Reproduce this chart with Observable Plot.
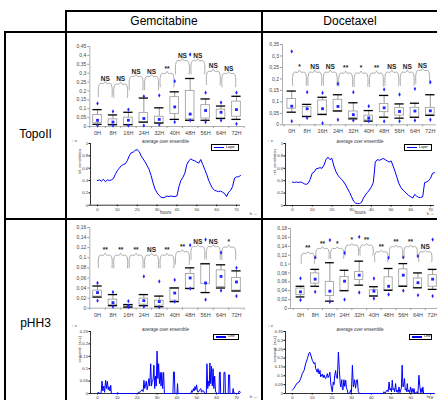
<!DOCTYPE html>
<html><head><meta charset="utf-8">
<script src="https://cdn.jsdelivr.net/npm/d3@7"></script>
<script src="https://cdn.jsdelivr.net/npm/@observablehq/plot@0.6"></script>
<style>
body{margin:0;background:#fff;}
#root{position:relative;width:437px;height:400px;overflow:hidden;background:#fff;font-family:"Liberation Sans",Arial,sans-serif;}
.bar{position:absolute;background:#000;}
.hdr{position:absolute;font-size:12px;text-align:center;color:#000;line-height:12px;}
.panel{position:absolute;}
.panel svg{overflow:visible;}
.legend{position:absolute;border:0.8px solid #000;background:#fff;box-sizing:border-box;display:flex;align-items:center;}
.legend .ln{display:inline-block;width:10px;height:1.2px;background:#0000ff;margin-left:2px;margin-right:2px;}
.legend .tx{font-size:3.5px;color:#000;line-height:3.5px;}
</style></head>
<body><div id="root"></div>
<script>
// ---------- table text ----------
const colHeaders = ["Gemcitabine", "Docetaxel"];
const rowHeaders = ["TopoII", "pHH3"];
const timeCats = ["0H","8H","16H","24H","32H","40H","48H","56H","64H","72H"];

// ---------- Gemcitabine / TopoII box chart ----------
const gemTopoQ1   = [0.02,0.01,0.01,0.02,0.015,0.07,0.04,0.045,0.045,0.055];
const gemTopoQ3   = [0.065,0.04,0.05,0.075,0.055,0.165,0.2,0.12,0.095,0.14];
const gemTopoMean = [0.035,0.025,0.035,0.045,0.04,0.11,0.07,0.09,0.08,0.095];
const gemTopoLo   = [0.012,0.01,0.01,0.025,0.02,0.04,0.035,0.035,0.045,0.04];
const gemTopoHi   = [0.095,0.065,0.08,0.16,0.105,0.195,0.27,0.155,0.115,0.17];
const gemTopoMin  = [0.005,0.005,0.005,0.005,0.01,0.025,0.035,0.025,0.035,0.015];
const gemTopoMax  = [0.13,0.085,0.095,0.17,0.175,0.255,0.405,0.19,0.135,0.19];
const gemTopoSig  = ["NS","NS","NS","NS","**","NS","NS","NS","NS"];
const gemTopoSigY = [0.242,0.238,0.281,0.281,0.298,0.37,0.37,0.31,0.298];
const gemTopoTicks = [0,0.05,0.1,0.15,0.2,0.25,0.3,0.35,0.4,0.45];

// ---------- Docetaxel / TopoII box chart ----------
const docTopoQ1   = [0.07,0.036,0.045,0.06,0.03,0.019,0.055,0.04,0.03,0.044];
const docTopoQ3   = [0.113,0.077,0.106,0.109,0.058,0.04,0.091,0.073,0.074,0.074];
const docTopoMean = [0.081,0.07,0.07,0.08,0.044,0.03,0.074,0.058,0.06,0.061];
const docTopoLo   = [0.055,0.036,0.045,0.06,0.026,0.016,0.033,0.029,0.033,0.041];
const docTopoHi   = [0.147,0.089,0.12,0.131,0.096,0.062,0.128,0.091,0.094,0.131];
const docTopoMin  = [0.016,0.03,0.007,0.022,0.019,0.016,0.015,0.016,0.019,0.022];
const docTopoMax  = [0.32,0.142,0.139,0.179,0.142,0.081,0.154,0.132,0.157,0.186];
const docTopoSig  = ["*","NS","NS","**","*","**","NS","NS","NS"];
const docTopoSigY = [0.229,0.229,0.229,0.225,0.225,0.225,0.229,0.229,0.237];
const docTopoTicks = [0,0.05,0.1,0.15,0.2,0.25,0.3,0.35];

// ---------- Gemcitabine / pHH3 box chart ----------
const gemPhhQ1   = [0.023,0.006,0.002,0.007,0.005,0.015,0.039,0.048,0.042,0.035];
const gemPhhQ3   = [0.035,0.017,0.007,0.019,0.015,0.04,0.068,0.088,0.075,0.06];
const gemPhhMean = [0.031,0.011,0.005,0.015,0.013,0.03,0.06,0.05,0.063,0.052];
const gemPhhLo   = [0.022,0.005,0.002,0.005,0.003,0.013,0.039,0.031,0.04,0.034];
const gemPhhHi   = [0.044,0.027,0.007,0.027,0.024,0.04,0.08,0.088,0.086,0.074];
const gemPhhMin  = [0.015,0.003,0.002,0.003,0.002,0.013,0.039,0.017,0.035,0.024];
const gemPhhMax  = [0.05,0.032,0.014,0.063,0.053,0.056,0.125,0.136,0.11,0.08];
const gemPhhSig  = ["**","**","**","NS","**","**","NS","NS","*"];
const gemPhhSigY = [0.105,0.105,0.105,0.105,0.105,0.112,0.122,0.122,0.121];
const gemPhhTicks = [0,0.02,0.04,0.06,0.08,0.1,0.12,0.14,0.16];

// ---------- Docetaxel / pHH3 box chart ----------
const docPhhQ1   = [0.03,0.056,0.028,0.04,0.064,0.028,0.041,0.05,0.0465,0.049];
const docPhhQ3   = [0.045,0.079,0.06,0.071,0.0825,0.041,0.07,0.088,0.0675,0.075];
const docPhhMean = [0.0375,0.066,0.039,0.0615,0.075,0.039,0.05,0.075,0.058,0.066];
const docPhhLo   = [0.026,0.05,0.0165,0.04,0.0525,0.028,0.041,0.05,0.0465,0.043];
const docPhhHi   = [0.05,0.088,0.103,0.086,0.1065,0.049,0.09,0.101,0.08,0.088];
const docPhhMin  = [0.019,0.0375,0.015,0.02,0.036,0.0225,0.0315,0.04,0.03,0.028];
const docPhhMax  = [0.068,0.115,0.154,0.125,0.161,0.0675,0.114,0.115,0.118,0.155];
const docPhhSig  = ["**","**","*","*","**","**","**","**","NS"];
const docPhhSigY = [0.124,0.135,0.135,0.1425,0.1425,0.1275,0.139,0.139,0.1275];
const docPhhTicks = [0,0.02,0.04,0.06,0.08,0.1,0.12,0.14,0.16,0.18];

// ---------- line charts ----------
const hourTicks = [0,10,20,30,40,50,60,70];
const corrTicks = [0,0.2,0.4,0.6,0.8,1];
const gemPhhLineTicks = [0,0.05,0.1,0.15,0.2,0.25];
const docPhhLineTicks = [0,0.05,0.1,0.15,0.2,0.25,0.3,0.35];

const topoHours = [0,1,2,3,4,5,6,7,8,9,10,11,12,13,14,15,16,17,18,19,20,21,22,23,24,25,26,27,28,29,30,31,32,33,34,35,36,37,38,39,40,41,42,43,44,45,46,47,48,49,50,51,52,53,54,55,56,57,58,59,60,61,62,63,64,65,66,67,68,69,70,71,72];
const gemTopoLine = [0.40,0.41,0.39,0.42,0.38,0.41,0.40,0.41,0.43,0.50,0.56,0.60,0.64,0.66,0.67,0.72,0.80,0.85,0.86,0.89,0.90,0.87,0.80,0.75,0.70,0.64,0.58,0.48,0.36,0.26,0.20,0.16,0.13,0.12,0.13,0.15,0.14,0.15,0.14,0.14,0.15,0.30,0.40,0.45,0.52,0.66,0.72,0.75,0.73,0.72,0.70,0.68,0.74,0.66,0.58,0.50,0.40,0.33,0.27,0.24,0.23,0.22,0.23,0.21,0.19,0.14,0.21,0.24,0.30,0.44,0.46,0.46,0.48];
const docTopoLine = [0.38,0.37,0.38,0.37,0.38,0.37,0.35,0.34,0.36,0.42,0.52,0.54,0.59,0.60,0.61,0.60,0.65,0.74,0.78,0.74,0.76,0.64,0.55,0.49,0.45,0.42,0.38,0.33,0.27,0.21,0.14,0.07,0.04,0.03,0.03,0.05,0.12,0.17,0.21,0.25,0.30,0.37,0.70,0.74,0.73,0.74,0.76,0.74,0.72,0.70,0.72,0.64,0.55,0.45,0.35,0.29,0.25,0.22,0.19,0.16,0.14,0.12,0.18,0.15,0.13,0.13,0.14,0.37,0.38,0.40,0.44,0.52,0.53];

const gemPhhHours = [0,0.5,1,1.8,2.3,2.7,3.2,3.6,4.1,4.5,5,5.4,5.8,6.3,6.7,7,10,10.2,10.5,20,20.5,21.5,22,22.5,23,23.4,23.8,24.2,24.6,25,25.4,25.9,26.3,26.8,27.2,27.6,28,28.4,28.8,29.2,29.6,30,30.4,30.8,31.2,31.6,32,32.4,32.8,33.3,33.7,38,38.3,38.7,39,40,40.3,40.6,47,47.4,47.8,48.3,48.7,49.1,49.5,49.9,50.3,50.7,51.5,52,52.4,52.9,53.5,54,54.8,55.1,55.5,55.9,56.3,56.6,57,57.4,57.8,58.2,58.6,59,59.4,60,61.2,61.4,61.8,62,63.5,63.7,64.2,64.4,65.8,66,66.5,66.7,68,68.3,68.6,69.5,71,71.3,72];
const gemPhhLine  = [0,0.006,0,0,0.05,0.01,0.03,0.005,0.053,0.02,0.05,0.015,0.028,0.01,0.033,0,0,0.004,0,0,0.004,0.006,0.01,0.015,0.008,0.053,0.02,0.035,0.05,0.015,0.03,0.06,0.03,0.12,0.03,0.05,0.055,0.114,0.02,0.07,0.03,0.171,0.06,0.12,0.04,0.085,0.03,0.085,0.02,0.085,0,0,0.087,0.087,0,0,0.04,0,0,0.012,0.005,0.02,0.01,0.028,0.015,0.035,0.01,0.005,0.015,0.02,0.005,0.012,0.01,0,0,0.12,0.02,0.05,0.03,0.123,0.04,0.11,0.03,0.1,0.02,0.07,0.01,0,0,0.086,0.086,0,0,0.085,0.085,0,0,0.075,0.075,0,0,0.02,0.003,0,0,0.01,0.005];

const docPhhHours = [0,0.8,1.7,2.5,3.4,4.2,5,5.9,6.7,7.6,8.4,8.9,9.6,10.1,11,11.4,11.8,12.6,13,13.5,14,14.3,15.2,15.6,16,16.5,16.9,17.3,17.7,18.1,18.5,19,19.4,19.7,20.2,20.7,21.1,21.4,21.9,22.3,22.8,23.3,23.8,24.2,24.5,25,25.3,25.6,26.1,26.5,27,27.4,27.8,28.2,29,29.5,29.9,30.4,30.9,31.5,32,32.5,32.9,33.4,34,46,46.4,47,48,48.5,49,49.4,49.7,50.2,50.6,51,51.4,51.8,52.3,52.7,53.1,53.6,54,54.5,55.2,55.6,56,56.2,56.8,57.2,57.5,57.9,58.2,58.6,59,59.4,59.9,60.3,60.7,61.2,61.6,62,63.2,63.6,64.1,64.6,65,65.3,65.7,66.1,66.5,72];
const docPhhLine  = [0.019,0.03,0.047,0.06,0.065,0.084,0.112,0.13,0.168,0.197,0.228,0.232,0.206,0.187,0.168,0.175,0.14,0.12,0.14,0.11,0.13,0.094,0.11,0.09,0.105,0.088,0.084,0.1,0.112,0.09,0.1,0.12,0.06,0.037,0.01,0.065,0.05,0.1,0.13,0.09,0.084,0.234,0.13,0.06,0.037,0.078,0.03,0.02,0.078,0.04,0.075,0.03,0.02,0,0,0.02,0.005,0.16,0.037,0.078,0.03,0.075,0.078,0.01,0,0,0.01,0.003,0.02,0.01,0.065,0.02,0.028,0.01,0.075,0.02,0.028,0.01,0.056,0.01,0.02,0.005,0.037,0.005,0.03,0.16,0.04,0.037,0.084,0.02,0.028,0.01,0.056,0.01,0.02,0.005,0.037,0.005,0.028,0.005,0.028,0,0.01,0,0.103,0.037,0.005,0.028,0.005,0.037,0,0];

// ---------- helpers ----------
const BLUE = "#2323ff";
const FONT = "'Liberation Sans', Arial, sans-serif";
const root = document.getElementById("root");

function place(node, left, top) {
  const d = document.createElement("div");
  d.className = "panel";
  d.style.left = left + "px"; d.style.top = top + "px";
  d.appendChild(node);
  root.appendChild(d);
}
function bar(l, t, w, h) {
  const d = document.createElement("div");
  d.className = "bar";
  Object.assign(d.style, {left: l + "px", top: t + "px", width: w + "px", height: h + "px"});
  root.appendChild(d);
}
function hdr(text, l, t, w) {
  const d = document.createElement("div");
  d.className = "hdr";
  Object.assign(d.style, {left: l + "px", top: t + "px", width: w + "px"});
  d.textContent = text;
  root.appendChild(d);
}
function legend(label, l, t, w, h) {
  const d = document.createElement("div");
  d.className = "legend";
  Object.assign(d.style, {left: l + "px", top: t + "px", width: w + "px", height: h + "px"});
  d.innerHTML = `<span class="ln"></span><span class="tx">${label}</span>`;
  root.appendChild(d);
}
const commaFmt = d => d === 0 ? "0" : String(d).replace(".", ",");

function braces(sigY, leg) {
  const pts = [];
  sigY.forEach((h, k) => {
    [[k + 0.06, h - leg], [k + 0.06, h - 0.3 * leg], [k + 0.16, h], [k + 0.4, h], [k + 0.5, h + 0.16 * leg],
     [k + 0.6, h], [k + 0.84, h], [k + 0.94, h - 0.3 * leg], [k + 0.94, h - leg]]
      .forEach(([x, y]) => pts.push({k, x, y}));
  });
  return pts;
}

function boxChart(c) {
  const data = timeCats.map((cat, i) => ({i, cat, q1: c.q1[i], q3: c.q3[i], mean: c.mean[i],
    lo: c.lo[i], hi: c.hi[i], min: c.min[i], max: c.max[i]}));
  const sig = c.sig.map((t, k) => ({k, t, y: c.sigY[k]}));
  const yMax = c.ticks[c.ticks.length - 1];
  const half = d3.range(-0.5, 10, 1);
  return Plot.plot({
    width: c.width, height: c.height,
    marginTop: c.mt, marginBottom: c.mb, marginLeft: c.ml, marginRight: c.mr,
    x: {domain: c.xDomain}, y: {domain: [0, yMax]},
    style: {background: "transparent", overflow: "visible", fontFamily: FONT},
    marks: [
      Plot.ruleX([c.xDomain[0]], {stroke: "#9a9a9a", strokeWidth: 0.8}),
      Plot.ruleY([0], {stroke: "#9a9a9a", strokeWidth: 0.8}),
      Plot.axisY({ticks: c.ticks, tickFormat: commaFmt, tickSize: 2, tickPadding: 1.5, fontSize: 5, fill: "#444", stroke: "#9a9a9a"}),
      Plot.axisX({ticks: half, tickFormat: () => "", tickSize: 2, stroke: "#9a9a9a"}),
      Plot.axisX({ticks: data.map(d => d.i), tickFormat: i => timeCats[i], tickSize: 0, tickPadding: 4.5, fontSize: 5.5, fill: "#444"}),
      Plot.line(braces(c.sigY, c.leg), {x: "x", y: "y", z: "k", curve: "catmull-rom", stroke: "#a0a0a0", strokeWidth: 0.9}),
      Plot.text(sig, {x: d => d.k + 0.5, y: "y", text: "t", dy: -5, fontSize: 6.5, fontWeight: "bold", fill: "#222"}),
      Plot.ruleX(data, {x: "i", y1: "lo", y2: "hi", stroke: "#333", strokeWidth: 0.5}),
      Plot.rect(data, {x1: d => d.i - 0.28, x2: d => d.i + 0.28, y1: "q1", y2: "q3", fill: "#fff", stroke: "#999", strokeWidth: 0.8}),
      Plot.ruleY(data, {y: "hi", x1: d => d.i - 0.3, x2: d => d.i + 0.3, stroke: "#000", strokeWidth: 1.3}),
      Plot.ruleY(data, {y: "lo", x1: d => d.i - 0.3, x2: d => d.i + 0.3, stroke: "#000", strokeWidth: 1.3}),
      Plot.dot(data, {x: "i", y: "mean", symbol: "square", r: 1.6, fill: BLUE, stroke: "none"}),
      Plot.dot(data, {x: "i", y: "max", symbol: "diamond", r: 1.3, fill: BLUE, stroke: "none"}),
      Plot.dot(data, {x: "i", y: "min", symbol: "diamond", r: 1.3, fill: BLUE, stroke: "none"})
    ]
  });
}

function lineChart(c) {
  const data = c.hours.map((h, j) => ({h, v: c.values[j]}));
  const yMax = c.ticks[c.ticks.length - 1];
  const marks = [
    Plot.axisX({ticks: hourTicks, tickSize: 1.5, tickPadding: 1, fontSize: 4.2, fill: "#333", stroke: "#000"}),
    Plot.axisY({ticks: c.ticks, tickFormat: d => String(d), tickSize: 1.5, tickPadding: 1, fontSize: 4.2, fill: "#333", stroke: "#000"}),
    Plot.ruleX([-3.5], {stroke: "#000", strokeWidth: 0.8}),
    Plot.ruleY([0], {stroke: "#000", strokeWidth: 0.8}),
    Plot.line(data, {x: "h", y: "v", stroke: "#0000ff", strokeWidth: 1}),
    Plot.text(["average over ensemble"], {text: d => d, frameAnchor: "top", dy: -4, fontSize: 4.5, fill: "#333"}),
    Plot.text([c.ylabel], {text: d => d, frameAnchor: "left", rotate: -90, dx: -11, fontSize: 4, fill: "#333"})
  ];
  if (c.xlabel) marks.push(Plot.text([c.xlabel], {text: d => d, frameAnchor: "bottom", dy: 8.5, fontSize: 4.5, fill: "#333"}));
  return Plot.plot({
    width: c.width, height: c.height,
    marginTop: c.mt, marginBottom: c.mb, marginLeft: c.ml, marginRight: c.mr,
    x: {domain: [-3.5, 72]}, y: {domain: [0, yMax]},
    style: {background: "transparent", overflow: "visible", fontFamily: FONT},
    marks
  });
}

// ---------- table frame ----------
bar(66, 10, 371, 2);
bar(4, 31, 433, 2);
bar(4, 218, 433, 2);
bar(4, 31, 2, 369);
bar(65, 10, 2, 390);
bar(261, 10, 2, 390);
hdr(colHeaders[0], 67, 15, 194);
hdr(colHeaders[1], 263, 15, 174);
hdr(rowHeaders[0], 6, 128, 59);
hdr(rowHeaders[1], 6, 317, 59);

// ---------- panels ----------
place(boxChart({q1: gemTopoQ1, q3: gemTopoQ3, mean: gemTopoMean, lo: gemTopoLo, hi: gemTopoHi, min: gemTopoMin, max: gemTopoMax,
  sig: gemTopoSig, sigY: gemTopoSigY, ticks: gemTopoTicks, leg: 0.075, xDomain: [-0.5, 9.5],
  width: 192, height: 104, mt: 12, mb: 12, ml: 21.3, mr: 16.3}), 68, 34);
place(boxChart({q1: docTopoQ1, q3: docTopoQ3, mean: docTopoMean, lo: docTopoLo, hi: docTopoHi, min: docTopoMin, max: docTopoMax,
  sig: docTopoSig, sigY: docTopoSigY, ticks: docTopoTicks, leg: 0.058, xDomain: [-0.6, 9.4],
  width: 173, height: 104, mt: 10, mb: 13.7, ml: 18, mr: 1}), 264, 34);
place(boxChart({q1: gemPhhQ1, q3: gemPhhQ3, mean: gemPhhMean, lo: gemPhhLo, hi: gemPhhHi, min: gemPhhMin, max: gemPhhMax,
  sig: gemPhhSig, sigY: gemPhhSigY, ticks: gemPhhTicks, leg: 0.025, xDomain: [-0.5, 9.5],
  width: 192, height: 100, mt: 6, mb: 13.3, ml: 21.3, mr: 16.3}), 68, 221);
place(boxChart({q1: docPhhQ1, q3: docPhhQ3, mean: docPhhMean, lo: docPhhLo, hi: docPhhHi, min: docPhhMin, max: docPhhMax,
  sig: docPhhSig, sigY: docPhhSigY, ticks: docPhhTicks, leg: 0.0225, xDomain: [-0.68, 9.33],
  width: 173, height: 100, mt: 7, mb: 13, ml: 26, mr: 0}), 264, 221);

place(lineChart({hours: topoHours, values: gemTopoLine, ticks: corrTicks, ylabel: "rel. correlation", xlabel: "hours",
  width: 192, height: 81, mt: 7, mb: 12.3, ml: 22, mr: 20}), 68, 136);
place(lineChart({hours: topoHours, values: docTopoLine, ticks: corrTicks, ylabel: "rel. correlation", xlabel: "hours",
  width: 173, height: 81, mt: 7, mb: 12, ml: 21, mr: 3}), 264, 136);
place(lineChart({hours: gemPhhHours, values: gemPhhLine, ticks: gemPhhLineTicks, ylabel: "concentr. (a.u.)",
  width: 192, height: 79, mt: 10, mb: 7, ml: 22, mr: 20}), 68, 321);
place(lineChart({hours: docPhhHours, values: docPhhLine, ticks: docPhhLineTicks, ylabel: "concentr. (a.u.)",
  width: 173, height: 79, mt: 10, mb: 7, ml: 21, mr: 3}), 264, 321);

legend("Layer", 211, 144, 28, 7);
legend("Layer", 404, 144, 28, 7);
legend("Line", 213, 334, 26, 6);
legend("Line", 409, 334, 23, 6);
</script>
</body></html>
